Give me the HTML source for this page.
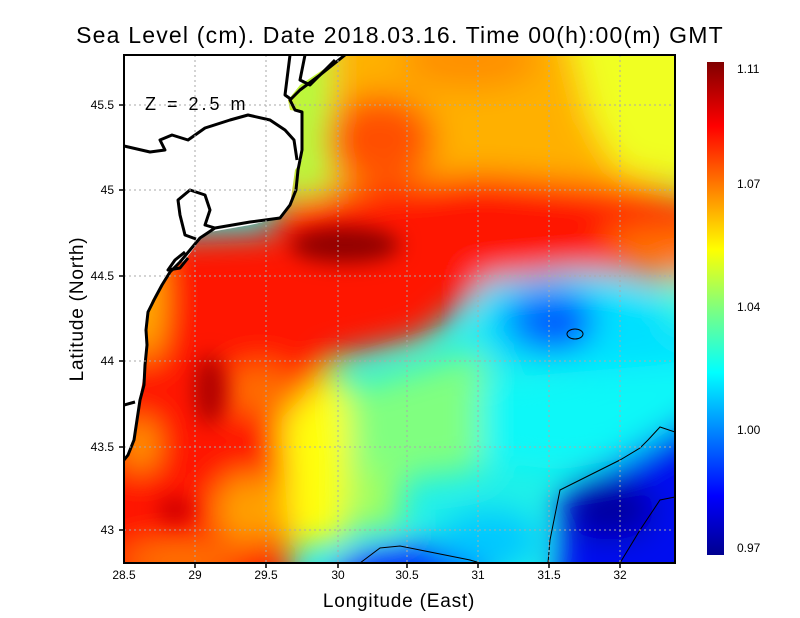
<!DOCTYPE html>
<html><head><style>
body{margin:0;background:#fff;}
svg{display:block;font-family:"Liberation Sans",sans-serif;}
</style></head><body>
<svg width="800" height="618" viewBox="0 0 800 618" xmlns="http://www.w3.org/2000/svg">
<defs>
<clipPath id="pc"><rect x="124" y="55" width="551" height="508"/></clipPath>
<filter id="b1" x="-50%" y="-50%" width="200%" height="200%"><feGaussianBlur stdDeviation="16"/></filter>
<filter id="b2" x="-50%" y="-50%" width="200%" height="200%"><feGaussianBlur stdDeviation="10"/></filter>
<linearGradient id="cb" x1="0" y1="1" x2="0" y2="0">
<stop offset="0" stop-color="#00008f"/>
<stop offset="0.12" stop-color="#0000ff"/>
<stop offset="0.37" stop-color="#00ffff"/>
<stop offset="0.5" stop-color="#7fff7f"/>
<stop offset="0.62" stop-color="#ffff00"/>
<stop offset="0.87" stop-color="#ff0000"/>
<stop offset="1" stop-color="#800000"/>
</linearGradient>
</defs>
<text x="400" y="43" font-size="23" text-anchor="middle" fill="#000" letter-spacing="1.2">Sea Level (cm). Date 2018.03.16. Time 00(h):00(m) GMT</text>
<g clip-path="url(#pc)">
<rect x="124" y="55" width="551" height="508" fill="#20f0e8"/>
<g filter="url(#b1)">
<rect x="60" y="0" width="700" height="190" fill="#ffb000"/>
<path d="M560 0 L720 0 L720 190 L620 170 L590 120 Z" fill="#f0ff20"/>
<path d="M280 0 L330 0 L330 200 L285 200 Z" fill="#b0ff40"/>
<ellipse cx="380" cy="140" rx="55" ry="45" fill="#ff5000"/>
<ellipse cx="470" cy="60" rx="70" ry="30" fill="#ff9000"/>
<path d="M270 200 L480 175 L600 185 L720 200 L720 280 L560 270 L460 300 L300 300 Z" fill="#ff1400"/>
<path d="M600 230 L720 220 L720 290 L640 280 Z" fill="#ff7000"/>
<path d="M80 240 L300 230 L440 270 L470 300 L420 340 L330 360 L300 420 L290 600 L80 600 Z" fill="#ff1800"/>
<ellipse cx="145" cy="300" rx="16" ry="60" fill="#ffc000"/>
<ellipse cx="260" cy="390" rx="35" ry="25" fill="#ff7000"/>
<ellipse cx="250" cy="510" rx="35" ry="35" fill="#ffa000"/>
<ellipse cx="180" cy="560" rx="60" ry="15" fill="#ff8000"/>
<path d="M280 420 L330 370 L355 390 L345 545 L290 545 Z" fill="#ffff10"/>
<ellipse cx="140" cy="445" rx="14" ry="25" fill="#ffb000"/>
<path d="M345 390 L480 350 L500 400 L480 470 L400 480 L355 470 Z" fill="#80ff80"/>
<path d="M350 470 L400 470 L400 530 L350 530 Z" fill="#a0ff60"/>
<path d="M480 280 L600 270 L660 300 L720 330 L720 360 L600 370 L480 360 Z" fill="#00e0ff"/>
<ellipse cx="550" cy="320" rx="45" ry="32" fill="#0070ff"/>
<ellipse cx="565" cy="330" rx="25" ry="15" fill="#0040ff"/>
<path d="M480 380 L720 360 L720 440 L560 470 L480 460 Z" fill="#10f8f8"/>
<path d="M555 600 L560 490 L620 460 L720 400 L720 600 Z" fill="#0010f0"/>
<ellipse cx="610" cy="510" rx="45" ry="30" fill="#0000a0"/>
<ellipse cx="410" cy="580" rx="80" ry="35" fill="#0030ff"/>
<ellipse cx="490" cy="540" rx="50" ry="30" fill="#00c8ff"/>
<ellipse cx="680" cy="300" rx="12" ry="30" fill="#40ffd0"/>
</g>
<g filter="url(#b2)">
<ellipse cx="345" cy="245" rx="55" ry="18" fill="#900000"/>
<ellipse cx="210" cy="390" rx="16" ry="35" fill="#b00000"/>
<ellipse cx="175" cy="510" rx="18" ry="14" fill="#d00000"/>
</g>
<path d="M124 55 L345 55 L300 85 L288 100 L290 110 L302 112 L302 160 L295 170 L290 205 L280 218 L250 225 L210 232 L200 240 L185 260 L172 270 L160 288 L152 300 L146 318 L147 345 L145 365 L142 385 L139 400 L136 430 L130 450 L124 462 Z" fill="#fff"/>
<g fill="none" stroke="#000" stroke-width="3" stroke-linejoin="round">
<path d="M345 55 L320 75 L300 90 L290 100 L295 110 L302 112 L302 125 L302 150 L298 170 L296 190 L290 205 L280 218 L250 222 L215 228 L200 238 L190 250 L180 262 L170 272 L162 285 L155 298 L148 312 L146 330 L147 345 L145 365 L144 385 L140 400 L137 420 L134 440 L128 455 L124 460"/>
<path d="M124 146 L150 152 L165 150 L160 140 L172 135 L188 140 L205 128 L230 120 L248 115 L270 120 L285 130 L294 140 L297 160"/>
<path d="M196 239 L185 235 L180 215 L178 200 L190 190 L205 195 L210 210 L205 225 L215 228"/>
<path d="M185 252 L175 260 L168 270 L180 268 L188 258"/>
<path d="M124 405 L135 402"/>
<path d="M290 55 L285 95 L292 100 M305 55 L300 80 L310 85 L325 70 L335 60"/>
</g>
<g fill="none" stroke="#000" stroke-width="1">
<ellipse cx="575" cy="334" rx="8" ry="5"/>
<path d="M360 563 L380 548 L400 546 L430 552 L470 560 L480 563"/>
<path d="M548 563 L550 540 L560 490 L590 475 L620 460 L640 448 L648 440 L660 427 L675 432"/>
<path d="M620 563 L640 530 L660 500 L675 497"/>
</g>
<g stroke="#aaa" stroke-width="1" stroke-dasharray="2,3" fill="none">
<path d="M195 55V563M266 55V563M338 55V563M407 55V563M478 55V563M549 55V563M620 55V563"/>
<path d="M124 105H675M124 190H675M124 276H675M124 361H675M124 447H675M124 530H675"/>
</g>
<text x="145" y="110" font-size="18" fill="#000" letter-spacing="3">Z = 2.5 m</text>
</g>
<rect x="124" y="55" width="551" height="508" fill="none" stroke="#000" stroke-width="2"/>
<g stroke="#000" stroke-width="1.5">
<path d="M195 563v5M266 563v5M338 563v5M407 563v5M478 563v5M549 563v5M620 563v5"/>
<path d="M119 105h5M119 190h5M119 276h5M119 361h5M119 447h5M119 530h5"/>
</g>
<g font-size="12" fill="#000" text-anchor="middle">
<text x="124" y="579">28.5</text><text x="195" y="579">29</text><text x="266" y="579">29.5</text><text x="338" y="579">30</text><text x="407" y="579">30.5</text><text x="478" y="579">31</text><text x="549" y="579">31.5</text><text x="620" y="579">32</text>
</g>
<g font-size="12" fill="#000" text-anchor="end">
<text x="114" y="109">45.5</text><text x="114" y="194">45</text><text x="114" y="280">44.5</text><text x="114" y="365">44</text><text x="114" y="451">43.5</text><text x="114" y="534">43</text>
</g>
<text x="399" y="607" font-size="19" text-anchor="middle" letter-spacing="0.8">Longitude (East)</text>
<text transform="translate(83,309) rotate(-90)" font-size="19" text-anchor="middle" letter-spacing="0.8">Latitude (North)</text>
<rect x="707" y="62" width="17" height="493" fill="url(#cb)"/>
<g font-size="12" fill="#000">
<text x="737" y="73">1.11</text><text x="737" y="188">1.07</text><text x="737" y="311">1.04</text><text x="737" y="434">1.00</text><text x="737" y="552">0.97</text>
</g>
</svg>
</body></html>
